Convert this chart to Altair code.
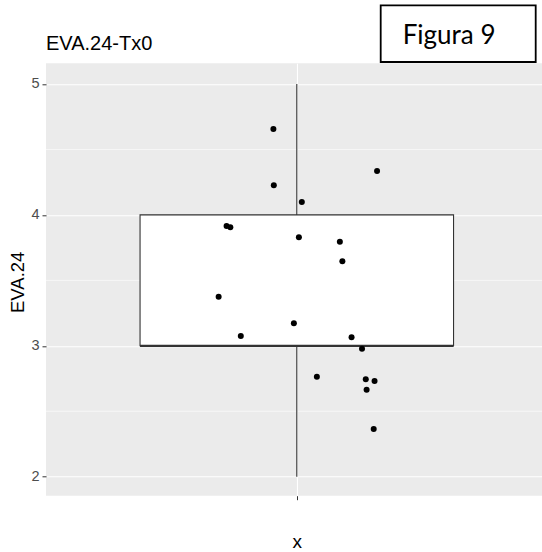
import altair as alt
import pandas as pd

# ---- text ----
title_text = "EVA.24-Tx0"
y_label = "EVA.24"
x_label = "x"
note_text = "Figura 9"

# ---- jittered observations (horizontal jitter offset, value) ----
jit_x = [-0.056, 0.192, -0.055, 0.012, -0.168, -0.159, 0.005, 0.103, 0.109,
         -0.187, -0.007, -0.134, 0.131, 0.156, 0.048, 0.165, 0.186, 0.167, 0.184]
values = [4.656, 4.335, 4.226, 4.099, 3.915, 3.905, 3.829, 3.795, 3.646,
          3.375, 3.172, 3.075, 3.065, 2.978, 2.764, 2.744, 2.731, 2.665, 2.364]

# ---- box summary ----
box_min = [2.0]
box_q1 = [3.0]
box_median = [3.0]
box_q3 = [4.0]
box_max = [5.0]
box_center = [0.0]
box_left = [-0.375]
box_right = [0.375]

major_breaks = [2, 3, 4, 5]
minor_breaks = [2.5, 3.5, 4.5]

pts = pd.DataFrame({"jx": jit_x, "val": values})
box = pd.DataFrame({"lo": box_min, "q1": box_q1, "med": box_median, "q3": box_q3,
                    "hi": box_max, "c": box_center, "l": box_left, "r": box_right})
minor = pd.DataFrame({"m": minor_breaks})
note = pd.DataFrame({"t": [note_text]})
ttl = pd.DataFrame({"t": [title_text]})

W, H = 496, 432.4
xscale = alt.Scale(domain=[-0.6, 0.5866], nice=False, zero=False)
yscale = alt.Scale(domain=[1.855, 5.158], nice=False, zero=False)

def xaxis():
    return alt.Axis(values=[0], labels=False, grid=True, gridColor="white", gridWidth=1.1,
                    ticks=True, tickColor="#333333", tickSize=4, tickWidth=1,
                    domain=False, title=x_label, titleFont="Liberation Sans",
                    titleFontSize=19, titleFontWeight="normal", titleColor="black",
                    titleX=250.8, titleY=51.3, titleBaseline="alphabetic", titleAlign="center")

def yaxis():
    return alt.Axis(values=major_breaks, grid=True, gridColor="white", gridWidth=1.1,
                    ticks=True, tickColor="#333333", tickSize=4, tickWidth=1,
                    domain=False, labelFont="Liberation Sans", labelFontSize=14.5,
                    labelColor="#4D4D4D", labelPadding=3,
                    title=y_label, titleFont="Liberation Sans", titleFontSize=18.5,
                    titleFontWeight="normal", titleColor="black",
                    titleX=-29, titleY=218.5, titleAngle=270, titleAlign="center",
                    titleBaseline="middle")

minor_layer = alt.Chart(minor).mark_rule(color="white", strokeWidth=0.6).encode(
    y=alt.Y("m:Q", scale=yscale, axis=yaxis()),
)

whisker = alt.Chart(box).mark_rule(color="#333333", strokeWidth=1.1).encode(
    x=alt.X("c:Q", scale=xscale, axis=xaxis()),
    y=alt.Y("lo:Q", scale=yscale, axis=yaxis()),
    y2="hi:Q",
)

box_rect = alt.Chart(box).mark_rect(fill="white", stroke="#333333", strokeWidth=1.1).encode(
    x=alt.X("l:Q", scale=xscale, axis=xaxis()),
    x2="r:Q",
    y=alt.Y("q1:Q", scale=yscale, axis=yaxis()),
    y2="q3:Q",
)

median_line = alt.Chart(box).mark_rule(color="#333333", strokeWidth=2.2).encode(
    x=alt.X("l:Q", scale=xscale, axis=xaxis()),
    x2="r:Q",
    y=alt.Y("med:Q", scale=yscale, axis=yaxis()),
)

points = alt.Chart(pts).mark_circle(color="black", opacity=1, size=36).encode(
    x=alt.X("jx:Q", scale=xscale, axis=xaxis()),
    y=alt.Y("val:Q", scale=yscale, axis=yaxis()),
)

title_txt = alt.Chart(ttl).mark_text(font="Liberation Sans", fontSize=20, color="black",
                                     align="left", baseline="alphabetic").encode(
    x=alt.value(0), y=alt.value(-13.3), text="t:N",
)

note_box = alt.Chart(note).mark_rect(fill="white", stroke="black", strokeWidth=1.8).encode(
    x=alt.value(334.7), x2=alt.value(489.7), y=alt.value(-58), y2=alt.value(-1.3),
)
note_txt = alt.Chart(note).mark_text(font="Lato", fontSize=26, color="black",
                                     align="left", baseline="alphabetic").encode(
    x=alt.value(356.7), y=alt.value(-19.8), text="t:N",
)

chart = alt.layer(minor_layer, whisker, box_rect, median_line, points,
                  title_txt, note_box, note_txt).properties(
    width=W, height=H,
    autosize=alt.AutoSizeParams(type="none"),
    padding={"left": 46, "top": 63.3, "right": 0, "bottom": 56.3},
    background="white",
).configure_view(fill="#EBEBEB", stroke=None)

chart.save("out.html", embed_options={"renderer": "svg", "actions": False})
